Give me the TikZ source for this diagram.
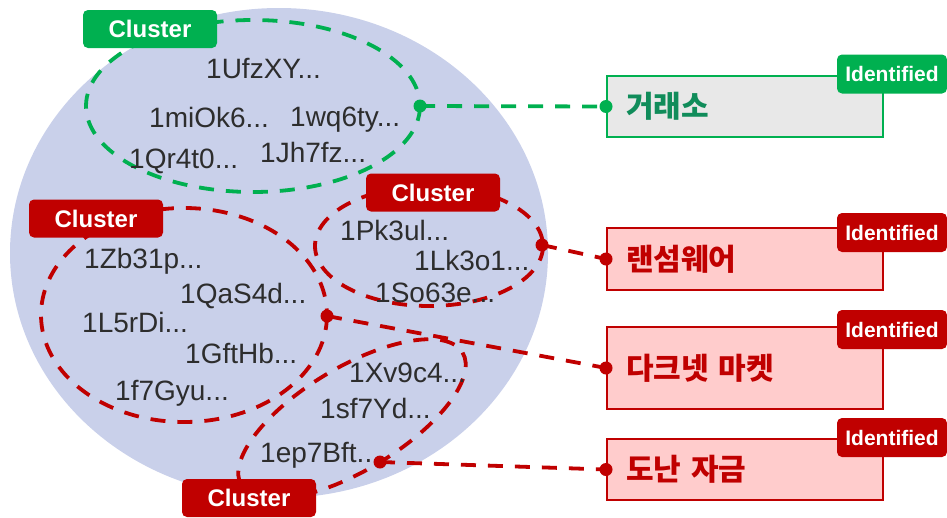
\documentclass[tikz,border=0pt]{standalone}
\usepackage{fontspec}
\setmainfont{Liberation Sans}
\newfontfamily\krfont{Noto Sans CJK KR}
\definecolor{pool}{RGB}{201,208,234}
\definecolor{grn}{RGB}{0,176,80}
\definecolor{grntxt}{RGB}{16,140,90}
\definecolor{rd}{RGB}{192,0,0}
\definecolor{pink}{RGB}{255,204,204}
\definecolor{lgray}{RGB}{232,232,232}
\definecolor{txtgray}{RGB}{45,45,45}
\begin{document}
\begin{tikzpicture}[x=1pt,y=-1pt,
  addr/.style={text=txtgray, font=\fontsize{28}{30}\selectfont, inner sep=0pt, anchor=base west},
  tag/.style={rounded corners=5pt, minimum width=134pt, minimum height=38pt, inner sep=0pt,
    text=white, font=\fontsize{24}{26}\selectfont\bfseries},
  idtag/.style={rounded corners=5pt, minimum width=110pt, minimum height=39pt, inner sep=0pt,
    text=white, font=\fontsize{21}{24}\selectfont\bfseries},
  ring/.style={dash pattern=on 15pt off 12pt, line width=3.8pt},
  link/.style={dash pattern=on 15pt off 12pt, line width=3.8pt},
  target/.style={minimum width=276pt, text width=238pt, align=left, inner xsep=19pt,
    inner ysep=0pt, line width=2pt, font=\krfont\bfseries\fontsize{30}{32}\selectfont},
  dot/.style={circle, inner sep=0pt, minimum size=13pt}
]
\useasboundingbox (0,0) rectangle (947,517);

% address pool
\fill[pool] (279,253) ellipse (269 and 245);

% clusters
\draw[ring, grn] (253,106) ellipse (167 and 86);
\draw[ring, rd] (429,246) ellipse (114 and 60);
\draw[ring, rd] (184,315) ellipse (143 and 107);
\draw[ring, rd, rotate around={31:(352,419)}] (352,419) ellipse (129 and 51.5);

% cluster tags
\node[tag, fill=grn] (tg) at (150,29) {Cluster};
\node[tag, fill=rd] (tr) at (433,192.5) {Cluster};
\node[tag, fill=rd] (tl) at (96,218.5) {Cluster};
\node[tag, fill=rd] (tb) at (249,498) {Cluster};

% addresses
\node[addr] (a1) at (206,78) {1UfzXY...};
\node[addr] (a2) at (149,127) {1miOk6...};
\node[addr] (a3) at (290,126) {1wq6ty...};
\node[addr] (a4) at (129,168) {1Qr4t0...};
\node[addr] (a5) at (260,162) {1Jh7fz...};

\node[addr] (b1) at (340,240) {1Pk3ul...};
\node[addr] (b2) at (414,270) {1Lk3o1...};
\node[addr] (b3) at (375,302) {1So63e...};

\node[addr] (c1) at (84,268) {1Zb31p...};
\node[addr] (c2) at (180,303) {1QaS4d...};
\node[addr] (c3) at (82,332) {1L5rDi...};
\node[addr] (c4) at (185,363) {1GftHb...};
\node[addr] (c5) at (115,400) {1f7Gyu...};

\node[addr] (d1) at (349,382) {1Xv9c4...};
\node[addr] (d2) at (320,418) {1sf7Yd...};
\node[addr] (d3) at (260,462) {1ep7Bft...};

% identified entities
\node[target, draw=grn, fill=lgray, text=grntxt, minimum height=61pt] (e1) at (745,106.5) {거래소};
\node[target, draw=rd, fill=pink, text=rd, minimum height=62pt] (e2) at (745,259) {랜섬웨어};
\node[target, draw=rd, fill=pink, text=rd, minimum height=82pt] (e3) at (745,368) {다크넷 마켓};
\node[target, draw=rd, fill=pink, text=rd, minimum height=61pt] (e4) at (745,469.5) {도난 자금};

\node[idtag, fill=grn] (i1) at (892,74) {Identified};
\node[idtag, fill=rd] (i2) at (892,232.5) {Identified};
\node[idtag, fill=rd] (i3) at (892,329.5) {Identified};
\node[idtag, fill=rd] (i4) at (892,437.5) {Identified};

% connection points on the clusters
\coordinate (p1) at (420,106);
\coordinate (p2) at (542,245);
\coordinate (p3) at (327,316);
\coordinate (p4) at (380,462);

% links
\draw[link, grn] (p1) -- (e1.west);
\draw[link, rd] (p2) -- (e2.west);
\draw[link, rd] (p3) -- (e3.west);
\draw[link, rd] (p4) -- (e4.west);

\foreach \p/\c in {p1/grn, p2/rd, p3/rd, p4/rd} \fill[\c] (\p) circle (6.5);
\foreach \e/\c in {e1/grn, e2/rd, e3/rd, e4/rd} \fill[\c] (\e.west) circle (6.5);
\end{tikzpicture}
\end{document}
